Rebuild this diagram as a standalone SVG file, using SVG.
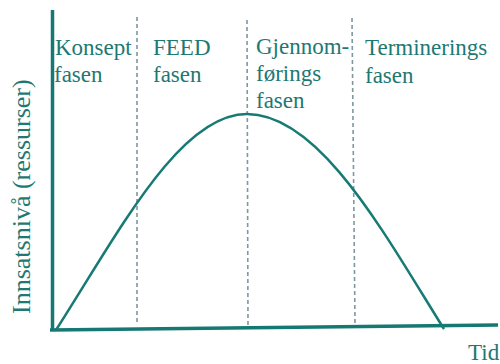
<svg xmlns="http://www.w3.org/2000/svg" width="500" height="364" viewBox="0 0 500 364">
<style>
.lbl{font-family:"Liberation Serif","Times New Roman",serif;font-size:23px;fill:#1e7873}
.dash{stroke:#7f979f;stroke-width:1.6;stroke-dasharray:4 3;fill:none}
.axis{stroke:#157873;stroke-width:3.5;fill:none}
.curve{stroke:#177a74;stroke-width:2.5;fill:none}
</style>
<rect width="500" height="364" fill="#ffffff"/>
<g id="connectors">
<line class="dash" x1="137" y1="17" x2="137" y2="324"/>
<line class="dash" x1="247" y1="20" x2="248" y2="325"/>
<line class="dash" x1="352" y1="18" x2="355" y2="324"/>
<line class="axis" x1="52.5" y1="10" x2="52.5" y2="331"/>
<line class="axis" x1="50" y1="330" x2="498" y2="325"/>
<path class="curve" d="M56,330 C120,230 180,114 247,114 C320,114 385,235 444,329"/>
</g>
<g id="konsept"><text class="lbl" x="55" y="55">Konsept</text><text class="lbl" x="54" y="82">fasen</text></g>
<g id="feed"><text class="lbl" x="153" y="55">FEED</text><text class="lbl" x="153" y="82">fasen</text></g>
<g id="gjennom"><text class="lbl" x="256" y="54">Gjennom-</text><text class="lbl" x="256" y="81">førings</text><text class="lbl" x="256" y="108">fasen</text></g>
<g id="terminering"><text class="lbl" x="365" y="55">Terminerings</text><text class="lbl" x="365" y="83">fasen</text></g>
<g id="ylabel"><text class="lbl" style="font-size:26px" transform="translate(30,314) rotate(-90)">Innsatsnivå (ressurser)</text></g>
<g id="xlabel"><text class="lbl" x="468" y="360">Tid</text></g>
</svg>
